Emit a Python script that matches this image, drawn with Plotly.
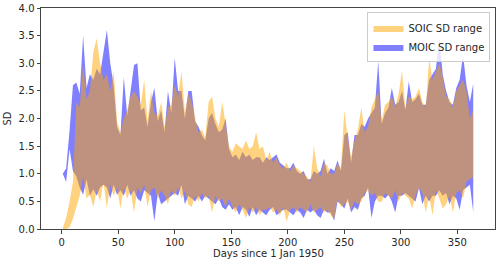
import plotly.graph_objects as go

days = list(range(1, 365, 3))

soic_hi = [
    0.02, 0.2, 0.5, 0.85, 2.3, 2.2, 3.0, 2.35, 2.5, 3.2,
    3.45, 3.0, 2.7, 2.8, 2.5, 2.85, 1.95, 1.75, 2.0, 2.15,
    2.4, 2.5, 2.4, 2.25, 2.7, 1.95, 2.5, 2.1, 2.05, 2.3,
    1.85, 2.2, 2.25, 2.6, 2.4, 2.85, 2.1, 2.45, 2.3, 2.05,
    1.75, 1.8, 1.65, 2.3, 2.4, 2.0, 1.85, 2.3, 1.9, 1.5,
    1.4, 1.55, 1.5, 1.45, 1.6, 1.45, 1.5, 1.75, 1.45, 1.5,
    1.25, 1.4, 1.2, 1.3, 1.15, 1.1, 1.2, 1.05, 1.15, 1.1,
    1.05, 1.0, 0.95, 0.85, 1.5, 1.1, 0.95, 1.2, 1.15, 1.0,
    1.0, 1.2, 1.1, 2.15, 1.65, 1.3, 1.6, 1.8, 2.2, 1.75,
    1.85, 2.2, 2.35, 2.5, 1.95, 2.25, 2.3, 2.4, 2.2, 2.45,
    2.86, 2.2, 2.4, 2.35, 2.4, 2.55, 2.3, 2.2, 3.09, 2.7,
    2.85, 3.0, 2.75, 2.4, 2.35, 2.2, 2.5, 2.6, 2.7, 2.5,
    2.0, 2.15]

soic_lo = [
    0.0, 0.0, 0.03, 0.18, 0.4, 0.6, 0.95, 0.55, 0.62, 0.4,
    0.7, 0.5, 0.85, 0.38, 0.8, 0.6, 0.75, 0.37, 0.75, 0.55,
    0.7, 0.3, 0.75, 0.65, 0.8, 0.4, 0.7, 0.75, 0.55, 0.7,
    0.6, 0.45, 0.7, 0.6, 0.75, 0.55, 0.7, 0.45, 0.4, 0.6,
    0.5, 0.65, 0.55, 0.6, 0.3, 0.6, 0.5, 0.55, 0.4, 0.55,
    0.4, 0.3, 0.45, 0.35, 0.2, 0.4, 0.3, 0.4, 0.25, 0.35,
    0.35, 0.4, 0.3, 0.35, 0.25, 0.4, 0.13, 0.35, 0.4, 0.3,
    0.4, 0.35, 0.3, 0.45, 0.3, 0.35, 0.4, 0.3, 0.35, 0.25,
    0.18, 0.55, 0.4, 0.45, 0.5, 0.35, 0.5, 0.45, 0.5, 0.65,
    0.7, 0.6, 0.65, 0.5, 0.49, 0.65, 0.6, 0.55, 0.7, 0.5,
    0.65, 0.6, 0.55, 0.37, 0.6, 0.75, 0.65, 0.3, 0.6, 0.25,
    0.7, 0.55, 0.37, 0.45, 0.6, 0.3, 0.65, 0.7, 0.55, 0.86,
    0.9, 0.94]

moic_hi = [
    1.0, 1.1, 1.78, 2.6, 2.65, 2.45, 3.5, 2.55, 2.8, 2.7,
    2.9, 2.8, 3.2, 3.6, 3.0, 2.6, 1.85, 1.7, 2.75, 2.05,
    2.5, 2.97, 3.0, 2.15, 2.2, 1.85, 2.3, 2.55, 1.95, 2.15,
    1.75, 2.5, 2.1, 3.1, 2.5, 2.5, 2.0, 2.5, 2.5, 1.95,
    1.85, 1.7, 1.6, 2.0, 2.1, 1.9, 1.75, 1.8, 2.0, 1.45,
    1.3, 1.35, 1.25, 1.4, 1.3, 1.35, 1.25, 1.3, 1.3, 1.2,
    1.3, 1.25, 1.3, 1.35, 1.2, 1.15, 1.1, 1.1, 1.2, 1.05,
    1.0, 1.05, 0.9, 0.9, 1.05, 1.0, 1.05, 1.27, 1.0, 1.1,
    1.05, 1.24, 1.05, 1.7, 1.75, 1.2, 1.7, 1.7, 1.9, 1.85,
    2.0, 2.1, 2.2, 3.04, 1.9, 2.1, 2.2, 2.55, 2.25, 2.3,
    2.5, 2.15, 2.67, 2.3, 2.35, 2.45, 2.25, 2.25, 2.7, 2.8,
    2.9, 3.45, 2.8, 2.5, 2.3, 2.25, 2.55, 2.7, 3.15, 2.6,
    2.3, 2.63]

moic_lo = [
    1.0, 0.85, 1.45, 1.05, 0.95, 0.75, 0.62, 0.9, 0.6, 0.72,
    0.6, 0.75, 0.8, 0.75, 0.55, 0.8, 0.62, 0.7, 0.6, 0.8,
    0.6, 0.7, 0.55, 0.5, 0.7, 0.65, 0.6, 0.14, 0.65, 0.45,
    0.5, 0.55, 0.6, 0.65, 0.6, 0.8, 0.45, 0.6, 0.55, 0.5,
    0.6, 0.5, 0.6, 0.55, 0.5, 0.45, 0.55, 0.4, 0.35, 0.45,
    0.35, 0.4, 0.25, 0.4, 0.35, 0.22, 0.4, 0.25, 0.35, 0.3,
    0.25, 0.35, 0.4, 0.25, 0.3, 0.35, 0.35, 0.3, 0.25, 0.35,
    0.3, 0.2, 0.35, 0.3, 0.35, 0.25, 0.2, 0.35, 0.3, 0.3,
    0.15, 0.5, 0.45, 0.37, 0.55, 0.3, 0.4, 0.35, 0.55, 0.6,
    0.75, 0.2, 0.5, 0.6, 0.6, 0.55, 0.62, 0.5, 0.3, 0.6,
    0.6, 0.65, 0.6, 0.55, 0.5, 0.74, 0.45, 0.6, 0.5, 0.6,
    0.6, 0.7, 0.6, 0.65, 0.45, 0.6, 0.55, 0.35, 0.7, 0.75,
    0.8, 0.31]

series_names = ["SOIC SD range", "MOIC SD range"]
x_ticks = [0, 50, 100, 150, 200, 250, 300, 350]
y_ticks = [0.0, 0.5, 1.0, 1.5, 2.0, 2.5, 3.0, 3.5, 4.0]

ORANGE = "rgba(255,165,0,0.5)"
BLUE = "rgba(0,0,255,0.5)"

fig = go.Figure()
# MOIC (drawn first, underneath)
fig.add_trace(go.Scatter(x=days, y=moic_lo, mode="lines", line=dict(width=0),
                         showlegend=False, hoverinfo="skip"))
fig.add_trace(go.Scatter(x=days, y=moic_hi, mode="lines", line=dict(width=0),
                         fill="tonexty", fillcolor=BLUE, name=series_names[1],
                         legendrank=2))
# SOIC on top
fig.add_trace(go.Scatter(x=days, y=soic_lo, mode="lines", line=dict(width=0),
                         showlegend=False, hoverinfo="skip"))
fig.add_trace(go.Scatter(x=days, y=soic_hi, mode="lines", line=dict(width=0),
                         fill="tonexty", fillcolor=ORANGE, name=series_names[0],
                         legendrank=1))

axis_common = dict(showline=True, linecolor="#444", linewidth=1, mirror=True,
                   ticks="outside", ticklen=3.5, tickwidth=0.8, tickcolor="#444",
                   showgrid=False, zeroline=False, automargin=False,
                   tickfont=dict(family="DejaVu Sans", size=10, color="#262626"))

fig.update_layout(
    width=500, height=264,
    margin=dict(l=41, r=5, t=8, b=35),
    paper_bgcolor="white", plot_bgcolor="white",
    font=dict(family="DejaVu Sans", size=10, color="#262626"),
    xaxis=dict(range=[-18.25, 383.25], tickvals=x_ticks, **axis_common),
    yaxis=dict(range=[0, 4], tickvals=y_ticks, tickformat=".1f", **axis_common),
    legend=dict(x=0.99, y=0.98, xanchor="right", yanchor="top",
                traceorder="normal",
                bgcolor="rgba(255,255,255,0.8)", bordercolor="#cccccc", borderwidth=1,
                font=dict(size=10), tracegroupgap=0, itemwidth=30),
    annotations=[
        dict(text="Days since 1 Jan 1950", xref="paper", yref="paper",
             x=0.5, y=-0.113, xanchor="center", yanchor="middle", showarrow=False,
             font=dict(size=10)),
        dict(text="SD", xref="paper", yref="paper", x=-0.0727, y=0.5,
             xanchor="center", yanchor="middle", textangle=-90, showarrow=False,
             font=dict(size=10)),
    ],
)

fig.write_html("out.html", config={"displayModeBar": False},
               post_script="document.body.style.margin='0';document.body.style.padding='0';")
